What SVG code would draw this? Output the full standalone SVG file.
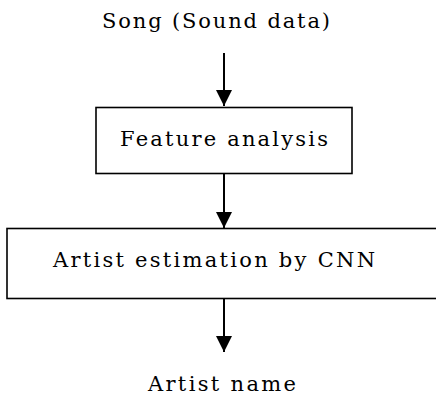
<svg xmlns="http://www.w3.org/2000/svg" width="436" height="396" viewBox="0 0 436 396">
<defs>
<style>
.t{font-family:'DejaVu Serif','Liberation Serif',serif;font-size:21px;fill:#000}
.box{fill:#fff;stroke:#000;stroke-width:1.6}
.edge{stroke:#000;stroke-width:2;fill:none}
</style>
<marker id="arr" markerUnits="userSpaceOnUse" markerWidth="16" markerHeight="16" viewBox="0 0 16 16" refX="16" refY="8" orient="auto">
<path d="M0,0 L16,8 L0,16 Z" fill="#000"/>
</marker>
</defs>
<rect width="436" height="396" fill="#fff"/>
<g id="connectors">
<line class="edge" x1="224" y1="53" x2="224" y2="106" marker-end="url(#arr)"/>
<line class="edge" x1="224" y1="174" x2="224" y2="228" marker-end="url(#arr)"/>
<line class="edge" x1="224" y1="299" x2="224" y2="352" marker-end="url(#arr)"/>
</g>
<g id="song">
<text class="t" x="102" y="28" textLength="228" lengthAdjust="spacing">Song (Sound data)</text>
</g>
<g id="feature">
<rect class="box" x="96" y="107.5" width="256" height="66"/>
<text class="t" x="120" y="145.5" textLength="208" lengthAdjust="spacing">Feature analysis</text>
</g>
<g id="artist-estimation">
<rect class="box" x="7" y="228.5" width="434" height="70"/>
<text class="t" x="53" y="267" textLength="322" lengthAdjust="spacing">Artist estimation by CNN</text>
</g>
<g id="artist-name">
<text class="t" x="148" y="391" textLength="148" lengthAdjust="spacing">Artist name</text>
</g>
</svg>
